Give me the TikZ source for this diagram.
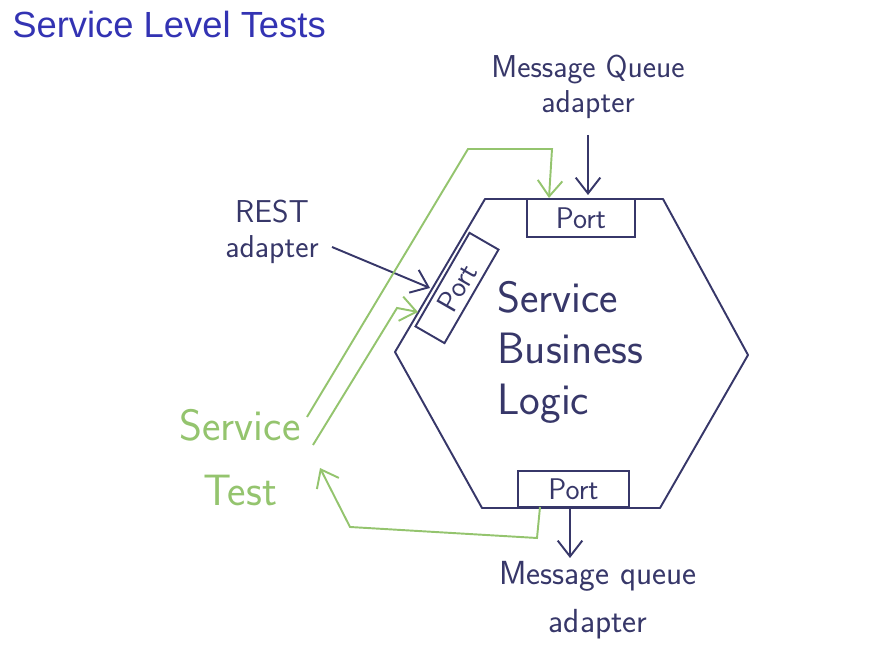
\documentclass[tikz,border=0pt]{standalone}
\usepackage{fontspec}
\usepackage{tikz}
\usepackage{tkz-euclide}
\usepackage{xcolor}
\usetikzlibrary{arrows.meta}
\newfontfamily\titlefont{Liberation Sans}
\definecolor{ink}{RGB}{55,55,105}
\definecolor{testgreen}{RGB}{148,196,110}
\definecolor{titleblue}{RGB}{51,51,179}
\tikzset{
  inkline/.style={draw=ink,line width=1.1pt},
  testline/.style={draw=testgreen,line width=1.1pt},
  barb/.style={-{Straight Barb[length=9pt,width=14pt]}},
  portbox/.style={inkline,rectangle,inner sep=0pt,font=\sffamily\fontsize{17}{18}\selectfont,text=ink},
  hand/.style={font=\sffamily\fontsize{#1}{#1}\selectfont,text=ink,align=center,inner sep=0pt}
}
\begin{document}
\begin{tikzpicture}
    \useasboundingbox (0,0) rectangle (17.38,13.34);
    % hexagon
    \tkzDefPoint(9.70,9.36){A} \tkzDefPoint(13.26,9.36){B}
    \tkzDefPoint(14.96,6.24){C} \tkzDefPoint(13.20,3.18){D}
    \tkzDefPoint(9.64,3.18){E} \tkzDefPoint(7.90,6.30){F}
    \tkzDrawPolygon[inkline](A,B,C,D,E,F)
    % ports
    \node[portbox,minimum width=2.16cm,minimum height=0.76cm] (porttop) at (11.62,8.98) {Port};
    \node[portbox,minimum width=2.22cm,minimum height=0.72cm] (portbot) at (11.47,3.56) {Port};
    \node[portbox,minimum width=2.16cm,minimum height=0.67cm,rotate=60] (portleft) at (9.14,7.58) {Port};
    % labels
    \node[anchor=base west,inner sep=0pt,text=titleblue,font=\titlefont\fontsize{20.7}{24}\selectfont] (title) at (0.24,12.58) {Service Level Tests};
    \node[hand=18] (mqtop) at (11.76,11.60) {Message Queue\\[2pt]adapter};
    \node[hand=18] (rest) at (5.44,8.70) {REST\\[2pt]adapter};
    \node[hand=25,align=left,anchor=west,font=\sffamily\fontsize{25}{29}\selectfont] (logic) at (9.94,6.30) {Service\\Business\\Logic};
    \node[hand=25,text=testgreen,font=\sffamily\fontsize{25}{37}\selectfont] (svctest) at (4.80,4.18) {Service\\Test};
    \node[hand=19,font=\sffamily\fontsize{19}{27}\selectfont] (mqbot) at (11.96,1.34) {Message queue\\adapter};
    % adapter arrows
    \tkzDefPoint(11.76,10.64){M1} \tkzDefPoint(11.76,9.44){M2}
    \tkzDefPoint(11.40,3.18){N1} \tkzDefPoint(11.40,2.18){N2}
    \tkzDefPoint(6.64,8.40){R1} \tkzDefPoint(8.60,7.58){R2}
    \draw[inkline,barb] (M1) -- (M2);
    \draw[inkline,barb] (N1) -- (N2);
    \draw[inkline,barb] (R1) -- (R2);
    % test paths
    \tkzDefPoint(6.14,5.00){G1} \tkzDefPoint(9.36,10.36){G2}
    \tkzDefPoint(11.04,10.36){G3} \tkzDefPoint(10.98,9.38){G4}
    \tkzDefPoint(6.26,4.44){H1} \tkzDefPoint(7.94,7.18){H2}
    \tkzDefPoint(8.36,7.10){H3}
    \tkzDefPoint(10.80,3.20){K1} \tkzDefPoint(10.74,2.58){K2}
    \tkzDefPoint(7.00,2.80){K3} \tkzDefPoint(6.40,3.98){K4}
    \draw[testline,barb] (G1) -- (G2) -- (G3) -- (G4);
    \draw[testline,barb] (H1) -- (H2) -- (H3);
    \draw[testline,barb] (K1) -- (K2) -- (K3) -- (K4);
\end{tikzpicture}
\end{document}
